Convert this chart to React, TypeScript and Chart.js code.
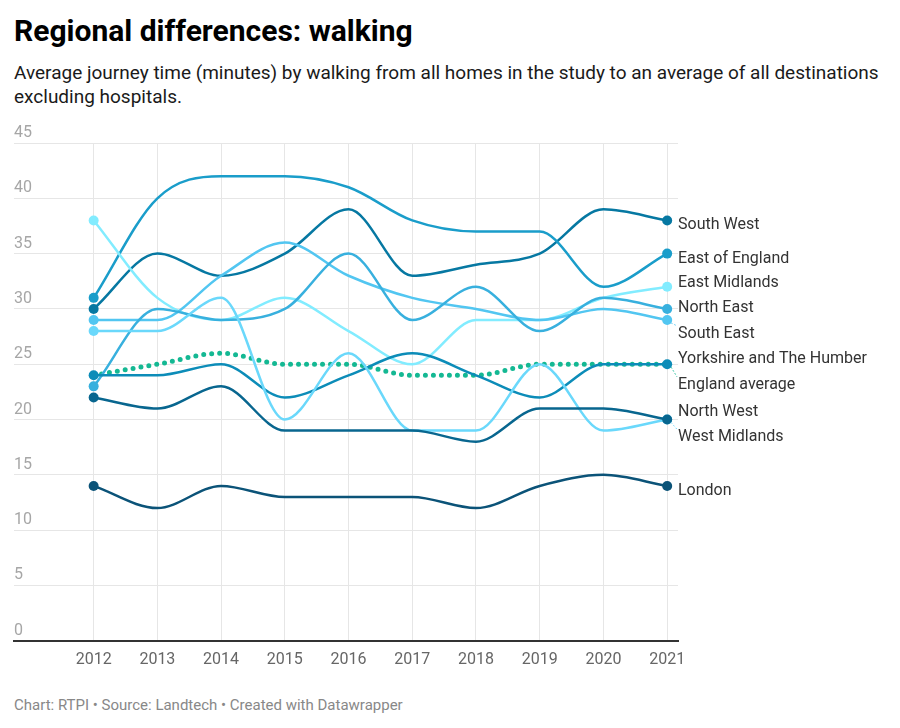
import React, { useEffect, useRef } from "react";
import { Chart, registerables } from "chart.js";

Chart.register(...registerables);

const years = [2012, 2013, 2014, 2015, 2016, 2017, 2018, 2019, 2020, 2021];
const yTicks = [0, 5, 10, 15, 20, 25, 30, 35, 40, 45];

const southWest = [30, 35, 33, 35, 39, 33, 34, 35, 39, 38];
const eastOfEngland = [31, 40, 42, 42, 41, 38, 37, 37, 32, 35];
const eastMidlands = [38, 31, 29, 31, 28, 25, 29, 29, 31, 32];
const northEast = [23, 30, 29, 30, 35, 29, 32, 28, 31, 30];
const southEast = [29, 29, 33, 36, 33, 31, 30, 29, 30, 29];
const yorkshire = [24, 24, 25, 22, 24, 26, 24, 22, 25, 25];
const englandAverage = [24, 25, 26, 25, 25, 24, 24, 25, 25, 25];
const northWest = [22, 21, 23, 19, 19, 19, 18, 21, 21, 20];
const westMidlands = [28, 28, 31, 20, 26, 19, 19, 25, 19, 20];
const london = [14, 12, 14, 13, 13, 13, 12, 14, 15, 14];

const seriesNames = [
  "London",
  "North West",
  "West Midlands",
  "Yorkshire and The Humber",
  "North East",
  "South East",
  "East Midlands",
  "East of England",
  "South West",
  "England average",
];
const seriesValues = [
  london,
  northWest,
  westMidlands,
  yorkshire,
  northEast,
  southEast,
  eastMidlands,
  eastOfEngland,
  southWest,
  englandAverage,
];
const seriesColors = [
  "#0b5378",
  "#08668f",
  "#6ad8fb",
  "#0c8cb8",
  "#38b0de",
  "#52c6f1",
  "#82ecff",
  "#1a9dca",
  "#0678a2",
  "#14b893",
];

const FONT = "Roboto, 'Noto Sans', sans-serif";

const endLabels = {
  id: "endLabels",
  afterDatasetsDraw(chart: any) {
    const { ctx, chartArea } = chart;
    const yScale = chart.scales.y;
    const xScale = chart.scales.x;
    const items = chart.data.datasets.map((ds: any, i: number) => {
      const last = ds.data[ds.data.length - 1];
      return {
        label: ds.label,
        color: ds.borderColor,
        px: xScale.getPixelForValue(last.x),
        target: yScale.getPixelForValue(last.y),
        pos: 0,
        idx: i,
      };
    });
    items.sort((a: any, b: any) => a.target - b.target || a.idx - b.idx);
    const sp = 25.5;
    let groups: any[] = items.map((it: any) => [it]);
    const place = (g: any[]) => {
      const mean = g.reduce((s, it) => s + it.target, 0) / g.length;
      g.forEach((it, k) => (it.pos = mean - ((g.length - 1) / 2) * sp + k * sp));
    };
    groups.forEach(place);
    let merged = true;
    while (merged) {
      merged = false;
      for (let i = 1; i < groups.length; i++) {
        const prev = groups[i - 1];
        const cur = groups[i];
        if (cur[0].pos - prev[prev.length - 1].pos < sp - 1.5) {
          const ng = prev.concat(cur);
          place(ng);
          groups.splice(i - 1, 2, ng);
          merged = true;
          break;
        }
      }
    }
    const lx = chartArea.right;
    ctx.save();
    ctx.font = `16px ${FONT}`;
    ctx.textAlign = "left";
    ctx.textBaseline = "middle";
    items.forEach((it: any) => {
      const ly = it.pos + 5;
      if (Math.abs(ly - it.target) > 8) {
        ctx.save();
        ctx.strokeStyle = it.color;
        ctx.lineWidth = 1;
        ctx.setLineDash([1.5, 2]);
        ctx.beginPath();
        const dir = ly > it.target ? 1 : -1;
        ctx.moveTo(it.px + 4, it.target + dir * 3);
        ctx.lineTo(lx - 1, ly - dir * 8);
        ctx.stroke();
        ctx.restore();
      }
      ctx.fillStyle = "#333333";
      ctx.fillText(it.label, lx, ly);
    });
    ctx.restore();
  },
};

export default function App() {
  const ref = useRef<HTMLCanvasElement | null>(null);

  useEffect(() => {
    if (!ref.current) return;
    const n = years.length;
    const datasets = seriesNames.map((name, i) => {
      const isAvg = name === "England average";
      return {
        label: name,
        data: years.map((yr, k) => ({ x: yr, y: seriesValues[i][k] })),
        borderColor: seriesColors[i],
        backgroundColor: seriesColors[i],
        borderWidth: isAvg ? 5 : 2.5,
        borderDash: isAvg ? [0, 8] : [],
        borderCapStyle: isAvg ? "round" : "butt",
        cubicInterpolationMode: "monotone",
        pointRadius: (c: any) =>
          isAvg ? 0 : c.dataIndex === 0 || c.dataIndex === n - 1 ? 5 : 0,
        pointBorderWidth: 0,
        pointHoverRadius: 0,
        fill: false,
      };
    });
    const chart = new Chart(ref.current, {
      type: "line",
      data: { datasets: datasets as any },
      plugins: [endLabels],
      options: {
        animation: false,
        responsive: false,
        maintainAspectRatio: false,
        layout: { padding: { left: 14, right: 222, top: 33, bottom: 0 } },
        plugins: { legend: { display: false }, tooltip: { enabled: false } },
        scales: {
          x: {
            type: "linear",
            min: 2010.75,
            max: 2021.17,
            afterBuildTicks: (s: any) => {
              s.ticks = years.map((v) => ({ value: v }));
            },
            grid: { color: "#e6e6e6", lineWidth: 1, drawTicks: false },
            border: { display: true, color: "#333333", width: 2 },
            ticks: {
              padding: 10,
              color: "#666666",
              font: { family: FONT, size: 16 },
              callback: (v: any) => String(v),
              maxRotation: 0,
              autoSkip: false,
            },
          },
          y: {
            min: 0,
            max: 45,
            afterBuildTicks: (s: any) => {
              s.ticks = yTicks.map((v) => ({ value: v }));
            },
            grid: { color: "#e6e6e6", lineWidth: 1, drawTicks: false },
            border: { display: false },
            ticks: {
              mirror: true,
              padding: 0,
              labelOffset: -10,
              color: "#a6a6a6",
              font: { family: FONT, size: 16 },
              callback: (v: any) => String(v),
            },
          },
        },
      },
    });
    return () => chart.destroy();
  }, []);

  return (
    <div
      style={{
        position: "absolute",
        left: 0,
        top: 0,
        width: 900,
        height: 728,
        background: "#ffffff",
        fontFamily: FONT,
      }}
    >
      <div
        style={{
          position: "absolute",
          left: 14,
          top: 13,
          fontSize: 30,
          fontWeight: 700,
          lineHeight: "36px",
          color: "#000",
        }}
      >
        Regional differences: walking
      </div>
      <div
        style={{
          position: "absolute",
          left: 14,
          top: 61,
          width: 880,
          fontSize: 19,
          lineHeight: "24px",
          color: "#1a1a1a",
        }}
      >
        Average journey time (minutes) by walking from all homes in the study to an average of all destinations excluding hospitals.
      </div>
      <canvas
        ref={ref}
        width={900}
        height={570}
        style={{ position: "absolute", left: 0, top: 110, width: 900, height: 570 }}
      />
      <div
        style={{
          position: "absolute",
          left: 14,
          top: 695,
          fontSize: 15,
          lineHeight: "20px",
          color: "#888888",
        }}
      >
        Chart: RTPI • Source: Landtech • Created with Datawrapper
      </div>
    </div>
  );
}
